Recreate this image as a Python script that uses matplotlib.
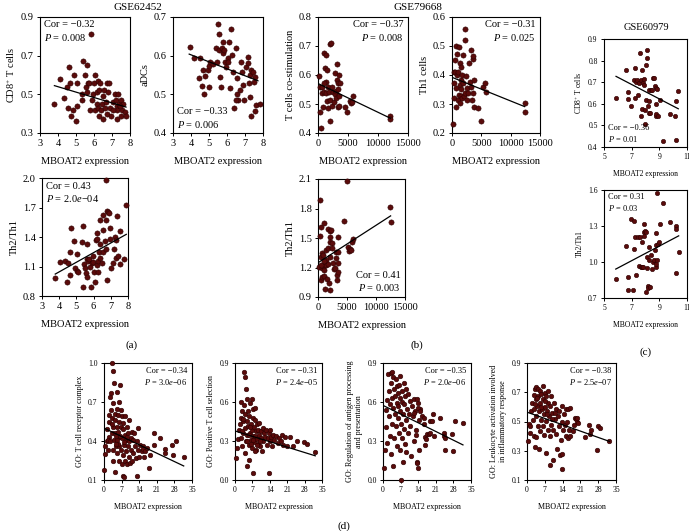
"""
MBOAT2 expression vs immune signatures, scatter panels (a)-(d)
"""

import numpy as np
import matplotlib
matplotlib.use('Agg')
import matplotlib.pyplot as plt

plt.rcParams['font.family'] = ['Liberation Serif', 'DejaVu Serif']
plt.rcParams['mathtext.fontset'] = 'custom'
plt.rcParams['mathtext.rm'] = 'Liberation Serif'
plt.rcParams['mathtext.it'] = 'Liberation Serif:italic'

# ---------------- data ----------------
# (a) GSE62452
a_cd8_x = [3.8, 4.11, 4.33, 4.48, 4.57, 4.63, 4.67, 4.7, 4.89, 4.85, 5.0, 5.04, 5.04, 5.33, 5.31,
           5.41, 5.5, 5.56, 5.63, 5.69, 5.63, 5.74, 5.81, 5.78, 5.87, 6.0, 6.06, 5.96, 6.06, 6.15,
           6.19, 6.2, 6.24, 6.3, 6.33, 6.3, 6.39, 6.43, 6.48, 6.52, 6.56, 6.61, 6.67, 6.7, 6.74,
           6.85, 6.8, 6.89, 6.94, 7.07, 7.17, 7.2, 7.26, 7.3, 7.3, 7.35, 7.41, 7.48, 7.54, 7.59,
           7.48, 7.72, 7.78, 7.07, 7.44]
a_cd8_y = [0.45, 0.58, 0.48, 0.54, 0.43, 0.64, 0.56, 0.39, 0.6, 0.42, 0.36, 0.44, 0.56, 0.5, 0.47,
           0.67, 0.6, 0.54, 0.65, 0.56, 0.51, 0.56, 0.81, 0.42, 0.47, 0.56, 0.6, 0.5, 0.42, 0.45,
           0.51, 0.57, 0.43, 0.52, 0.56, 0.39, 0.42, 0.45, 0.37, 0.49, 0.52, 0.43, 0.46, 0.4, 0.56,
           0.56, 0.51, 0.43, 0.39, 0.46, 0.5, 0.47, 0.44, 0.42, 0.37, 0.5, 0.45, 0.47, 0.42, 0.45,
           0.39, 0.41, 0.39, 0.42, 0.44]
a_cd8_fit = ([3.8, 7.78], [0.545, 0.434])

a_adc_x = [3.92, 4.19, 4.43, 4.5, 4.61, 4.69, 4.72, 4.8, 4.93, 4.98, 5.02, 5.06, 5.2, 5.39, 5.42,
           5.48, 5.53, 5.57, 5.61, 5.65, 5.72, 5.76, 5.79, 5.85, 5.9, 5.94, 6.03, 6.08, 6.12, 6.16,
           6.21, 6.26, 6.34, 6.39, 6.48, 6.57, 6.61, 6.8, 6.85, 6.89, 6.94, 7.07, 7.17, 7.17, 7.2,
           7.26, 7.3, 7.35, 7.44, 7.5, 7.54, 7.57, 7.63, 7.35, 7.81, 6.48, 6.56, 6.7]
a_adc_y = [0.623, 0.593, 0.541, 0.595, 0.522, 0.563, 0.501, 0.547, 0.563, 0.573, 0.518, 0.584,
           0.579, 0.619, 0.584, 0.683, 0.657, 0.614, 0.545, 0.518, 0.619, 0.606, 0.636, 0.614,
           0.584, 0.571, 0.593, 0.584, 0.636, 0.516, 0.67, 0.601, 0.558, 0.464, 0.619, 0.541,
           0.486, 0.584, 0.558, 0.524, 0.486, 0.571, 0.597, 0.58, 0.529, 0.493, 0.55, 0.563,
           0.558, 0.533, 0.545, 0.457, 0.473, 0.443, 0.474, 0.486, 0.5, 0.511]
a_adc_fit = ([3.9, 7.72], [0.604, 0.535])

a_th_x = [3.77, 4.06, 4.35, 4.44, 4.54, 4.63, 4.63, 4.67, 4.87, 4.92, 5.02, 5.06, 5.08, 5.31, 5.37,
          5.4, 5.44, 5.5, 5.56, 5.6, 5.63, 5.63, 5.69, 5.75, 5.79, 5.83, 5.88, 5.94, 5.98, 6.02,
          6.08, 6.13, 6.17, 6.21, 6.21, 6.25, 6.27, 6.33, 6.37, 6.37, 6.4, 6.46, 6.52, 6.52, 6.56,
          6.65, 6.71, 6.75, 6.79, 6.85, 6.75, 6.79, 6.9, 6.94, 6.98, 7.04, 7.13, 7.17, 7.23, 7.29,
          7.33, 7.37, 7.42, 7.52, 7.56, 7.75, 7.87]
a_th_y = [0.98, 1.15, 1.16, 0.94, 1.14, 1.25, 1.01, 1.49, 1.36, 1.08, 1.05, 1.23, 1.04, 1.35, 1.51,
          0.89, 1.13, 1.08, 1.03, 0.99, 1.33, 1.18, 1.16, 1.18, 1.09, 0.89, 1.14, 1.21, 1.15, 1.04,
          0.94, 1.37, 1.38, 1.44, 1.12, 1.04, 1.16, 1.25, 1.33, 1.19, 1.57, 1.14, 1.25, 1.62, 1.47,
          1.36, 1.57, 1.98, 1.66, 1.65, 1.28, 0.96, 1.64, 1.38, 1.49, 1.08, 1.14, 1.28, 1.4, 1.37,
          1.19, 1.61, 1.21, 1.13, 1.46, 1.18, 1.73]
a_th_fit = ([3.77, 7.9], [1.023, 1.427])

# (b) GSE79668
b_cos_x = [170, 280, 390, 560, 610, 720, 830, 940, 1060, 1110, 1280, 1280, 1390, 1500, 1500, 1670,
           1670, 1830, 1940, 2060, 2060, 2170, 2280, 2390, 2500, 2610, 2780, 2780, 2940, 2940, 3170,
           3170, 3330, 3330, 3390, 3440, 3500, 3500, 3610, 4440, 4830, 5280, 5560, 5720, 5830,
           11940, 12060, 940]
b_cos_y = [0.597, 0.558, 0.471, 0.417, 0.537, 0.558, 0.489, 0.677, 0.543, 0.623, 0.669, 0.577,
           0.537, 0.509, 0.617, 0.558, 0.486, 0.543, 0.514, 0.706, 0.443, 0.71, 0.494, 0.558, 0.543,
           0.506, 0.534, 0.606, 0.546, 0.52, 0.638, 0.583, 0.571, 0.491, 0.551, 0.529, 0.6, 0.494,
           0.574, 0.489, 0.474, 0.512, 0.503, 0.506, 0.529, 0.459, 0.448, 0.571]
b_cos_fit = ([170, 12060], [0.569, 0.451])

b_th1_x = [170, 280, 280, 390, 500, 560, 610, 720, 720, 830, 830, 940, 1060, 1110, 1170, 1280, 1280,
           1390, 1500, 1500, 1610, 1670, 1720, 1830, 1940, 2060, 2170, 2220, 2280, 2390, 2500, 2610,
           2780, 2940, 3060, 3170, 3280, 3390, 3500, 3500, 3610, 3720, 3720, 4440, 5000, 5280, 5560,
           5720, 1500, 12500, 12380]
b_th1_y = [0.232, 0.411, 0.32, 0.374, 0.451, 0.411, 0.291, 0.5, 0.354, 0.472, 0.4, 0.314, 0.411,
           0.497, 0.331, 0.44, 0.366, 0.303, 0.383, 0.326, 0.351, 0.4, 0.32, 0.469, 0.371, 0.328,
           0.522, 0.557, 0.339, 0.397, 0.314, 0.354, 0.337, 0.442, 0.377, 0.486, 0.358, 0.314, 0.454,
           0.337, 0.465, 0.383, 0.291, 0.286, 0.243, 0.36, 0.374, 0.343, 0.429, 0.303, 0.271]
b_th1_fit = ([0, 12380], [0.392, 0.291])

b_th_x = [170, 290, 400, 460, 520, 580, 640, 750, 750, 870, 920, 980, 1040, 1100, 1150, 1210, 1330,
          1330, 1440, 1560, 1670, 1790, 1790, 1900, 2020, 2020, 2080, 2130, 2130, 2310, 2370, 2480,
          2600, 2710, 2880, 3060, 3170, 3290, 3290, 3400, 3460, 3460, 3520, 4440, 5020, 5190, 5370,
          5600, 5940, 6000, 5770, 12400, 12640, 580, 1100]
b_th_y = [1.207, 1.524, 1.882, 1.07, 1.302, 1.609, 1.19, 1.343, 1.104, 1.213, 1.326, 1.65, 1.111,
          1.172, 1.224, 0.978, 1.275, 1.377, 1.224, 1.087, 1.394, 1.234, 1.589, 1.043, 1.575, 1.514,
          0.975, 1.462, 1.309, 1.582, 1.445, 1.394, 1.241, 1.18, 1.2, 1.292, 1.36, 1.121, 1.07,
          1.241, 1.514, 1.36, 1.155, 1.674, 2.076, 1.404, 1.37, 1.384, 1.462, 1.486, 1.377, 1.82,
          1.667, 1.224, 1.268]
b_th_fit = ([0, 12520], [1.248, 1.725])

# (c) GSE60979
c_cd8_x = [5.85, 6.62, 6.74, 6.74, 6.93, 7.22, 7.2, 7.24, 7.29, 7.38, 7.48, 7.53, 7.62, 7.67, 7.7,
           7.74, 7.77, 7.82, 7.87, 7.89, 7.96, 7.96, 8.01, 8.01, 8.11, 8.13, 8.18, 8.23, 8.25, 8.28,
           8.33, 8.38, 8.45, 8.55, 8.62, 8.69, 8.74, 8.78, 8.79, 8.79, 8.86, 8.91, 9.08, 9.23, 9.76,
           10.15, 10.2, 10.23, 10.37]
c_cd8_y = [0.627, 0.755, 0.655, 0.62, 0.588, 0.766, 0.712, 0.627, 0.701, 0.709, 0.642, 0.696, 0.835,
           0.542, 0.709, 0.577, 0.755, 0.696, 0.717, 0.686, 0.573, 0.508, 0.778, 0.616, 0.847, 0.814,
           0.588, 0.557, 0.613, 0.665, 0.557, 0.662, 0.665, 0.718, 0.718, 0.681, 0.674, 0.542, 0.6,
           0.554, 0.67, 0.545, 0.619, 0.428, 0.554, 0.542, 0.613, 0.434, 0.66]
c_cd8_fit = ([5.87, 10.37], [0.727, 0.577])

c_th_x = [5.85, 6.62, 6.72, 6.72, 6.93, 7.11, 7.18, 7.2, 7.22, 7.29, 7.48, 7.53, 7.57, 7.67, 7.77,
          7.77, 7.82, 7.87, 7.91, 7.91, 7.96, 8.01, 8.01, 8.11, 8.13, 8.18, 8.21, 8.25, 8.28, 8.33,
          8.38, 8.45, 8.55, 8.59, 8.66, 8.74, 8.79, 8.79, 8.84, 8.79, 8.84, 8.91, 8.99, 9.06, 9.23,
          9.76, 10.2, 10.22, 10.23, 10.42]
c_th_y = [0.858, 1.135, 0.872, 0.769, 1.359, 0.769, 1.11, 1.343, 1.212, 0.894, 1.212, 0.963, 1.212,
          0.958, 0.955, 1.17, 0.958, 1.254, 1.318, 1.218, 1.262, 1.246, 0.747, 0.949, 1.04, 0.801,
          0.782, 1.018, 1.124, 0.79, 1.06, 0.944, 0.999, 1.018, 1.102, 0.958, 0.985, 1.143, 1.018,
          1.24, 1.572, 1.151, 1.163, 1.318, 1.495, 1.337, 1.301, 1.273, 0.908, 1.08]
c_th_fit = ([5.85, 10.4], [0.941, 1.218])

# (d) GO terms
d_tcr_x = [0, 0.4, 0.5, 1.1, 1.3, 1.7, 1.9, 2.1, 2.1, 2.4, 2.7, 2.8, 3.1, 3.2, 3.3, 3.5, 3.5, 3.7, 3.7,
           3.7, 4.0, 4.0, 4.3, 4.4, 4.4, 4.5, 4.8, 5.1, 5.1, 5.1, 5.3, 5.3, 5.6, 5.7, 5.9, 6.0, 6.1,
           6.1, 6.4, 6.4, 6.7, 6.7, 6.8, 7.1, 7.2, 7.3, 7.5, 7.5, 7.7, 7.7, 8.0, 8.1, 8.2, 8.4, 8.5,
           8.8, 8.8, 9.0, 9.3, 9.5, 9.7, 9.8, 10.1, 10.1, 10.4, 10.6, 10.8, 11.0, 11.2, 11.4, 11.7,
           12.0, 12.4, 12.8, 13.0, 13.3, 13.5, 13.7, 14.1, 14.4, 15.0, 15.4, 15.7, 16.0, 16.4, 17.0,
           17.7, 18.4, 19.7, 20.0, 22.4, 24.2, 24.4, 27.0, 27.4, 28.7, 31.7, 1.7, 2.4, 4.6, 5.5,
           6.5, 7.9, 9.1, 3.0, 4.9]
d_tcr_y = [0.18, 0.3, 0.36, 0.4, 0.49, 0.33, 0.43, 0.55, 0.6, 0.74, 0.77, 0.64, 0.46, 0.58, 1.0,
           0.94, 0.33, 0.69, 0.51, 0.25, 0.85, 0.41, 0.61, 0.46, 0.16, 0.56, 0.36, 0.78, 0.65, 0.51,
           0.41, 0.31, 0.6, 0.47, 0.7, 0.36, 0.55, 0.25, 0.83, 0.43, 0.64, 0.51, 0.33, 0.59, 0.22,
           0.42, 0.49, 0.29, 0.13, 0.54, 0.37, 0.12, 0.45, 0.25, 0.59, 0.32, 0.41, 0.22, 0.51, 0.36,
           0.46, 0.28, 0.4, 0.56, 0.23, 0.42, 0.33, 0.47, 0.25, 0.41, 0.31, 0.46, 0.36, 0.27, 0.4,
           0.13, 0.5, 0.33, 0.28, 0.37, 0.32, 0.36, 0.34, 0.28, 0.32, 0.35, 0.19, 0.29, 0.46, 0.37,
           0.42, 0.34, 0.31, 0.37, 0.29, 0.4, 0.28, 0.41, 0.4, 0.44, 0.38, 0.44, 0.39, 0.43, 0.53,
           0.38]
d_tcr_fit = ([0, 31.7], [0.499, 0.208])

d_pos_x = [0.4, 0.9, 1.3, 1.7, 2.0, 2.3, 2.3, 2.6, 2.7, 2.8, 3.1, 3.4, 3.6, 3.8, 3.9, 4.0, 4.0, 4.2,
           4.4, 4.4, 4.7, 4.7, 5.0, 5.0, 5.2, 5.4, 5.5, 5.8, 5.8, 6.1, 6.1, 6.3, 6.5, 6.7, 6.7, 6.9,
           7.1, 7.1, 7.4, 7.4, 7.7, 7.7, 7.9, 8.1, 8.2, 8.5, 8.5, 8.7, 9.0, 9.3, 9.4, 9.8, 9.8, 10.1,
           10.4, 10.6, 10.8, 11.2, 11.4, 11.7, 12.1, 12.5, 12.8, 13.1, 13.5, 13.5, 13.9, 14.1, 14.4,
           14.8, 15.2, 15.7, 16.6, 17.1, 17.9, 18.4, 18.8, 19.5, 20.2, 21.1, 22.2, 23.3, 24.9, 27.8,
           28.9, 32.3, 3.0, 4.8, 5.6, 6.4, 7.2, 8.8, 10.0, 3.3, 5.9, 8.0]
d_pos_y = [0.168, 0.246, 0.316, 0.388, 0.427, 0.478, 0.323, 0.6, 0.53, 0.259, 0.452, 0.362, 0.828,
           0.574, 0.789, 0.401, 0.207, 0.504, 0.703, 0.297, 0.452, 0.109, 0.62, 0.349, 0.53, 0.414,
           0.155, 0.491, 0.272, 0.594, 0.362, 0.434, 0.31, 0.626, 0.388, 0.246, 0.478, 0.341, 0.057,
           0.543, 0.409, 0.29, 0.465, 0.336, 0.556, 0.375, 0.233, 0.427, 0.316, 0.388, 0.28, 0.349,
           0.44, 0.259, 0.375, 0.323, 0.22, 0.401, 0.297, 0.362, 0.331, 0.388, 0.272, 0.323, 0.057,
           0.362, 0.297, 0.388, 0.331, 0.259, 0.349, 0.31, 0.336, 0.284, 0.323, 0.297, 0.349, 0.272,
           0.331, 0.264, 0.331, 0.259, 0.297, 0.29, 0.28, 0.212, 0.38, 0.3, 0.35, 0.28, 0.31, 0.27,
           0.3, 0.47, 0.41, 0.22]
d_pos_fit = ([0.4, 32.3], [0.375, 0.186])

d_ant_x = [0.3, 0.6, 1.0, 1.1, 1.4, 1.7, 1.9, 2.3, 2.4, 2.7, 2.7, 3.0, 3.2, 3.2, 3.5, 3.6, 3.6, 3.9,
           4.0, 4.0, 4.3, 4.3, 4.6, 4.8, 5.0, 5.1, 5.4, 5.4, 5.6, 5.9, 5.9, 6.1, 6.3, 6.4, 6.7, 6.7,
           6.9, 6.9, 7.2, 7.2, 7.5, 7.6, 7.7, 8.0, 8.0, 8.3, 8.3, 8.5, 8.8, 8.9, 9.0, 9.3, 9.3, 9.6,
           9.8, 10.1, 10.2, 10.6, 10.9, 11.2, 11.6, 11.9, 12.2, 12.5, 12.9, 13.3, 13.5, 13.8, 14.2,
           14.6, 12.2, 13.5, 13.8, 13.3, 14.2, 13.5, 13.8, 14.9, 15.5, 16.2, 16.4, 16.8, 16.8, 17.2,
           17.5, 18.2, 18.6, 18.8, 19.5, 19.9, 20.4, 22.8, 24.1, 24.4, 24.8, 24.8, 27.4, 27.8, 28.7,
           31.8]
d_ant_y = [0.09, 0.233, 0.409, 0.538, 0.616, 0.285, 0.815, 0.685, 0.491, 0.582, 0.336, 0.822, 0.75,
           0.202, 0.833, 0.634, 0.427, 0.104, 0.789, 0.556, 0.703, 0.323, 0.504, 0.647, 0.776, 0.414,
           0.724, 0.59, 0.259, 0.672, 0.478, 0.569, 0.362, 0.729, 0.53, 0.634, 0.233, 0.802, 0.0,
           0.427, 0.6, 0.323, 0.685, 0.504, 0.135, 0.75, 0.393, 0.582, 0.279, 0.647, 0.465, 0.698,
           0.212, 0.548, 0.362, 0.66, 0.504, 0.608, 0.419, 0.181, 0.569, 0.491, 0.62, 0.297, 0.53,
           0.388, 0.135, 0.595, 0.465, 0.548, 0.518, 0.62, 0.556, 0.349, 0.233, 0.13, 0.091, 0.53,
           0.491, 0.478, 0.427, 0.331, 0.272, 0.318, 0.357, 0.351, 0.362, 0.452, 0.452, 0.504, 0.336,
           0.478, 0.362, 0.336, 0.233, 0.326, 0.351, 0.222, 0.452, 0.439]
d_ant_fit = ([0, 31.8], [0.574, 0.27])

d_leu_x = [0.4, 0.8, 1.1, 1.3, 1.7, 2.1, 2.4, 2.6, 2.6, 2.9, 3.0, 3.2, 3.4, 3.4, 3.7, 3.7, 3.9, 4.2,
           4.3, 4.5, 4.7, 4.7, 5.0, 5.0, 5.3, 5.4, 5.7, 5.8, 6.1, 6.1, 6.3, 6.6, 6.7, 7.0, 7.1, 7.4,
           7.6, 7.6, 7.9, 8.2, 8.3, 8.4, 8.7, 8.9, 8.9, 9.2, 9.5, 9.6, 10.0, 10.3, 10.3, 10.5, 10.9,
           11.3, 11.6, 11.8, 12.1, 12.4, 12.6, 12.9, 13.2, 13.6, 13.7, 13.9, 13.9, 14.2, 14.5, 14.9,
           15.3, 15.5, 15.8, 16.1, 16.3, 16.6, 16.8, 17.1, 17.9, 18.4, 18.8, 19.2, 19.5, 19.7, 20.1,
           22.8, 24.5, 24.7, 25.0, 27.6, 28.0, 28.9, 32.4, 3.1, 4.0, 5.5, 6.9, 8.0, 9.8, 11.0]
d_leu_y = [0.364, 0.486, 0.422, 0.472, 0.571, 0.629, 0.51, 0.679, 0.403, 0.587, 0.721, 0.326,
           0.652, 0.538, 0.394, 0.739, 0.606, 0.725, 0.472, 0.675, 0.315, 0.571, 0.709, 0.433, 0.629,
           0.51, 0.686, 0.583, 0.467, 0.744, 0.652, 0.549, 0.41, 0.698, 0.601, 0.503, 0.284, 0.675,
           0.571, 0.445, 0.629, 0.709, 0.538, 0.203, 0.403, 0.606, 0.479, 0.675, 0.56, 0.238, 0.445,
           0.625, 0.515, 0.587, 0.416, 0.315, 0.538, 0.467, 0.571, 0.272, 0.375, 0.5, 0.174, 0.279,
           0.606, 0.445, 0.549, 0.479, 0.403, 0.583, 0.5, 0.387, 0.587, 0.445, 0.403, 0.594, 0.433,
           0.479, 0.525, 0.515, 0.496, 0.525, 0.491, 0.394, 0.479, 0.416, 0.445, 0.308, 0.467, 0.456,
           0.364, 0.62, 0.66, 0.6, 0.64, 0.55, 0.52, 0.56]
d_leu_fit = ([0, 32.4], [0.564, 0.364])

W, H = 689, 531
DOT = '#5a0b0b'


def add_panel(fig, box, x, y, fit, xlim, xticks, ylim, yticks, ylabel, cor, pval,
              loc='tl', fs=7.5, tfs=7.5, lfs=7.5, xtl=None, ytl=None, s=14):
    """box = (left, top, right, bottom) in pixels"""
    l, t, r, b = box
    ax = fig.add_axes([l / W, 1 - b / H, (r - l) / W, (b - t) / H])
    ax.scatter(x, y, s=s, c=DOT, edgecolors='#2b0000', linewidths=0.4, zorder=3, clip_on=False)
    ax.plot(fit[0], fit[1], color='black', lw=0.9, zorder=4)
    ax.set_xlim(xlim)
    ax.set_ylim(ylim)
    ax.set_xticks(xticks)
    ax.set_yticks(yticks)
    if xtl is not None:
        ax.set_xticklabels(xtl)
    if ytl is not None:
        ax.set_yticklabels(ytl)
    ax.tick_params(direction='out', length=2.5, width=0.7, labelsize=tfs, pad=2)
    for sp in ax.spines.values():
        sp.set_linewidth(0.8)
    ax.set_ylabel(ylabel, fontsize=lfs, labelpad=3)
    ax.set_xlabel('MBOAT2 expression', fontsize=lfs, labelpad=6)
    txt = 'Cor = %s\n$P$ = %s' % (cor, pval)
    if loc == 'tl':
        ax.text(0.05, 0.97, txt, transform=ax.transAxes, ha='left', va='top', fontsize=fs, linespacing=1.25)
    elif loc == 'tr':
        ax.text(0.95, 0.97, txt, transform=ax.transAxes, ha='right', va='top', fontsize=fs, linespacing=1.25)
    elif loc == 'bl':
        ax.text(0.05, 0.03, txt, transform=ax.transAxes, ha='left', va='bottom', fontsize=fs, linespacing=1.25)
    else:
        ax.text(0.95, 0.03, txt, transform=ax.transAxes, ha='right', va='bottom', fontsize=fs, linespacing=1.25)
    return ax


fig = plt.figure(figsize=(W / 100, H / 100), dpi=100)

# (a)
add_panel(fig, (40, 17, 130, 133), a_cd8_x, a_cd8_y, a_cd8_fit, (3, 8), range(3, 9),
          (0.3, 0.9), [0.3, 0.5, 0.7, 0.9], 'CD8$^{+}$ T cells', '\u22120.32', '0.008', 'tl')
add_panel(fig, (173, 17, 263, 133), a_adc_x, a_adc_y, a_adc_fit, (3, 8), range(3, 9),
          (0.4, 0.7), [0.4, 0.5, 0.6, 0.7], 'aDCs', '\u22120.33', '0.006', 'bl')
add_panel(fig, (42, 178, 128, 296), a_th_x, a_th_y, a_th_fit, (3, 8), range(3, 9),
          (0.8, 2.0), [0.8, 1.1, 1.4, 1.7, 2.0], 'Th2/Th1', '0.43', '2.0$e$\u221204', 'tl')

# (b)
add_panel(fig, (318, 17, 408, 133), b_cos_x, b_cos_y, b_cos_fit, (0, 15000), [0, 5000, 10000, 15000],
          (0.4, 0.8), [0.4, 0.5, 0.6, 0.7, 0.8], 'T cells co-stimulation', '\u22120.37', '0.008', 'tr')
add_panel(fig, (452, 17, 540, 133), b_th1_x, b_th1_y, b_th1_fit, (0, 15000), [0, 5000, 10000, 15000],
          (0.2, 0.6), [0.2, 0.3, 0.4, 0.5, 0.6], 'Th1 cells', '\u22120.31', '0.025', 'tr')
add_panel(fig, (318, 179, 405, 297), b_th_x, b_th_y, b_th_fit, (0, 15000), [0, 5000, 10000, 15000],
          (0.9, 2.1), [0.9, 1.2, 1.5, 1.8, 2.1], 'Th2/Th1', '0.41', '0.003', 'br')

# (c)
add_panel(fig, (604, 39, 687, 147), c_cd8_x, c_cd8_y, c_cd8_fit, (5, 11), [5, 7, 9, 11],
          (0.4, 0.9), [0.4, 0.5, 0.6, 0.7, 0.8, 0.9], 'CD8$^{+}$ T cells', '\u22120.36', '0.01', 'bl',
          fs=6, tfs=5.5, lfs=5.5, s=10)
add_panel(fig, (604, 190, 687, 298), c_th_x, c_th_y, c_th_fit, (5, 11), [5, 7, 9, 11],
          (0.7, 1.6), [0.7, 1.0, 1.3, 1.6], 'Th2/Th1', '0.31', '0.03', 'tl',
          fs=6, tfs=5.5, lfs=5.5, s=10)

# (d)
dk = dict(fs=6, tfs=5.5, lfs=5.8, s=11)
xt = [0, 7, 14, 21, 28, 35]
add_panel(fig, (104, 363, 192, 480), d_tcr_x, d_tcr_y, d_tcr_fit, (0, 35), xt,
          (0.1, 1.0), [0.1, 0.4, 0.7, 1.0], 'GO: T cell receptor complex', '\u22120.34', '3.0$e$\u221206',
          'tr', **dk)
add_panel(fig, (235, 363, 322, 480), d_pos_x, d_pos_y, d_pos_fit, (0, 35), xt,
          (0.0, 0.9), [0.0, 0.3, 0.6, 0.9], 'GO: Positive T cell selection', '\u22120.31', '2.4$e$\u221205',
          'tr', **dk)
add_panel(fig, (383, 363, 471, 480), d_ant_x, d_ant_y, d_ant_fit, (0, 35), xt,
          (0.0, 0.9), [0.0, 0.3, 0.6, 0.9], 'GO: Regulation of antigen processing\nand presentation',
          '\u22120.35', '2.0$e$\u221206', 'tr', **dk)
add_panel(fig, (527, 363, 616, 480), d_leu_x, d_leu_y, d_leu_fit, (0, 35), xt,
          (0.1, 0.9), [0.1, 0.3, 0.5, 0.7, 0.9], 'GO: Leukocyte activation involved\nin inflammatory response',
          '\u22120.38', '2.5$e$\u221207', 'tr', **dk)

# dataset titles and panel letters
fig.text(138 / W, 1 - 7 / H, 'GSE62452', ha='center', va='center', fontsize=8)
fig.text(418 / W, 1 - 7 / H, 'GSE79668', ha='center', va='center', fontsize=8)
fig.text(646 / W, 1 - 28 / H, 'GSE60979', ha='center', va='center', fontsize=7.5)
fig.text(132 / W, 1 - 345 / H, '(a)', ha='center', va='center', fontsize=8)
fig.text(417 / W, 1 - 345 / H, '(b)', ha='center', va='center', fontsize=8)
fig.text(646 / W, 1 - 352 / H, '(c)', ha='center', va='center', fontsize=8)
fig.text(344 / W, 1 - 526 / H, '(d)', ha='center', va='center', fontsize=8)

fig.savefig('out.png', dpi=100)
